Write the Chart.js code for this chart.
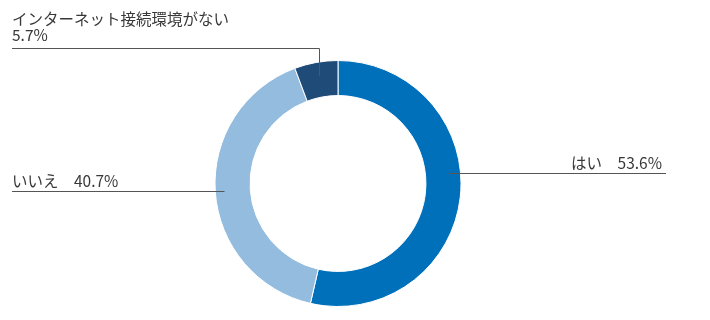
<!DOCTYPE html>
<html>
<head>
<meta charset="utf-8">
<script src="https://cdn.jsdelivr.net/npm/chart.js@4/dist/chart.umd.min.js"></script>
<style>
  html, body { margin: 0; padding: 0; background: #ffffff; }
  #wrap { width: 710px; height: 320px; position: relative; }
</style>
</head>
<body>
<div id="wrap"><canvas id="c" width="710" height="320"></canvas></div>
<script>
const categories = ['はい', 'いいえ', 'インターネット接続環境がない'];
const values = [53.6, 40.7, 5.7];
const colors = ['#0070BA', '#93BCDF', '#1F4B78'];

// leader-line / label layout per slice
const labelLayout = [
  { type: 'right', along: 0.437, radial: 0.64, endX: 666, textX: 662, textGap: 5 },
  { type: 'left', along: 0.5, radial: 0.74, endX: 12, textX: 12, textGap: 5 },
  { type: 'top', along: 0.5, radial: 0.6, lineY: 48, endX: 12, textX: 12 }
];

const leaderPlugin = {
  id: 'leaders',
  afterDatasetsDraw(chart) {
    const ctx = chart.ctx;
    const meta = chart.getDatasetMeta(0);
    ctx.save();
    ctx.font = '15.5px "Noto Sans CJK JP", "Noto Sans", sans-serif';
    ctx.fillStyle = '#383838';
    ctx.strokeStyle = '#555555';
    ctx.lineWidth = 1;
    ctx.textBaseline = 'alphabetic';
    meta.data.forEach((arc, i) => {
      const p = arc.getProps(['x', 'y', 'startAngle', 'endAngle', 'innerRadius', 'outerRadius'], true);
      const L = labelLayout[i];
      const a = p.startAngle + (p.endAngle - p.startAngle) * L.along;
      const r = p.innerRadius + (p.outerRadius - p.innerRadius) * L.radial;
      const ax = Math.round(p.x + Math.cos(a) * r) + 0.5;
      const ay = Math.round(p.y + Math.sin(a) * r) + 0.5;
      const valText = values[i].toFixed(1) + '%';
      ctx.beginPath();
      if (L.type === 'right') {
        ctx.moveTo(ax, ay);
        ctx.lineTo(L.endX, ay);
        ctx.stroke();
        ctx.textAlign = 'right';
        ctx.fillText(categories[i] + '\u3000' + valText, L.textX, ay - L.textGap);
      } else if (L.type === 'left') {
        ctx.moveTo(ax, ay);
        ctx.lineTo(L.endX, ay);
        ctx.stroke();
        ctx.textAlign = 'left';
        ctx.fillText(categories[i] + '\u3000' + valText, L.textX, ay - L.textGap);
      } else {
        const ly = L.lineY + 0.5;
        ctx.moveTo(ax, ay);
        ctx.lineTo(ax, ly);
        ctx.lineTo(L.endX, ly);
        ctx.stroke();
        ctx.textAlign = 'left';
        ctx.fillText(valText, L.textX, L.lineY - 7);
        ctx.fillText(categories[i], L.textX, L.lineY - 23);
      }
    });
    ctx.restore();
  }
};

new Chart(document.getElementById('c'), {
  type: 'doughnut',
  data: {
    labels: categories,
    datasets: [{
      data: values,
      backgroundColor: colors,
      borderColor: '#ffffff',
      borderWidth: 1
    }]
  },
  options: {
    responsive: false,
    animation: false,
    cutout: '71.5%',
    layout: { padding: { top: 60, bottom: 13, left: 0, right: 34 } },
    plugins: {
      legend: { display: false },
      tooltip: { enabled: false }
    }
  },
  plugins: [leaderPlugin]
});
</script>
</body>
</html>
